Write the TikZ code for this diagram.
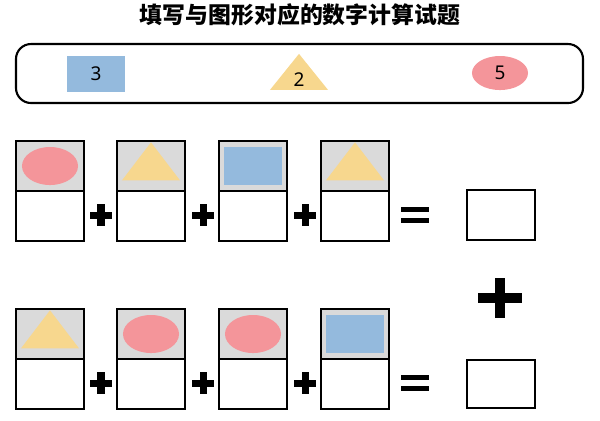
\documentclass[tikz,border=0pt]{standalone}
\usepackage{fontspec}
\setmainfont{Noto Sans}
\newfontfamily\cjk{Noto Sans CJK SC}
\usetikzlibrary{shapes.geometric}
\definecolor{pinkc}{HTML}{F4959A}
\definecolor{yelc}{HTML}{F7D78E}
\definecolor{bluec}{HTML}{94BADD}
\definecolor{greyc}{HTML}{DADADA}
\tikzset{
  card/.style={draw=black,line width=0.45pt,minimum width=0.68cm,minimum height=0.50cm,inner sep=0pt},
  ovalshape/.style={ellipse,fill=pinkc,minimum width=0.56cm,minimum height=0.38cm,inner sep=0pt},
  trishape/.style={isosceles triangle,shape border rotate=90,isosceles triangle stretches,fill=yelc,minimum width=0.58cm,minimum height=0.38cm,inner sep=0pt},
  rectshape/.style={fill=bluec,minimum width=0.58cm,minimum height=0.38cm,inner sep=0pt},
  keytext/.style={font=\fontsize{5.4pt}{6pt}\selectfont}
}
% plus sign drawn as two bars
\newcommand{\plussign}[3]{% name, position, half arm
  \coordinate (#1) at #2;
  \fill ([xshift=-#3,yshift=-0.035cm]#1) rectangle ([xshift=#3,yshift=0.035cm]#1);
  \fill ([xshift=-0.035cm,yshift=-#3]#1) rectangle ([xshift=0.035cm,yshift=#3]#1);
}
\newcommand{\equalsign}[2]{%
  \coordinate (#1) at #2;
  \fill ([xshift=-0.14cm,yshift=0.03cm]#1) rectangle ([xshift=0.14cm,yshift=0.08cm]#1);
  \fill ([xshift=-0.14cm,yshift=-0.08cm]#1) rectangle ([xshift=0.14cm,yshift=-0.03cm]#1);
}
\begin{document}
\begin{tikzpicture}[x=0.01cm,y=-0.01cm]
\useasboundingbox (0,0) rectangle (600,420);

% title
\node (title) at (300,15) {\cjk\bfseries\fontsize{6.5pt}{7pt}\selectfont 填写与图形对应的数字计算试题};

% legend
\draw[line width=0.6pt,rounded corners=0.15cm] (16,44) rectangle (583,103);
\node[rectshape,minimum height=0.36cm,keytext] (keyrect) at (96,74) {3};
\node[trishape,minimum height=0.36cm] (keytri) at (299,76) {};
\node[keytext] (keytrilabel) at (299,80) {2};
\node[ovalshape,minimum height=0.34cm,keytext] (keyoval) at (500,73) {5};

% row cards
\foreach \row/\y in {1/141, 2/309}
  \foreach \col/\x in {1/16, 2/117, 3/219, 4/321} {
    \node[card,fill=greyc] (top\row\col) at (\x+34,\y+25) {};
    \node[card] (bot\row\col) at (\x+34,\y+75) {};
  }

% shapes in the cards
\foreach \row/\col/\s in {1/1/ovalshape, 1/2/trishape, 1/3/rectshape, 1/4/trishape,
                          2/1/trishape, 2/2/ovalshape, 2/3/ovalshape, 2/4/rectshape}
  \node[\s] (shape\row\col) at (top\row\col) {};

% operators
\foreach \row/\y in {1/215, 2/383} {
  \plussign{plusA\row}{(101,\y)}{0.11cm}
  \plussign{plusB\row}{(203,\y)}{0.11cm}
  \plussign{plusC\row}{(305,\y)}{0.11cm}
  \equalsign{eq\row}{(415,\y)}
}

% answers
\node[card,minimum height=0.50cm] (ans1) at (501,215) {};
\node[card,minimum height=0.48cm] (ans2) at (501,384) {};
\fill ([xshift=-0.22cm,yshift=-0.05cm]500,298) rectangle ([xshift=0.22cm,yshift=0.05cm]500,298);
\fill ([xshift=-0.05cm,yshift=-0.20cm]500,298) rectangle ([xshift=0.05cm,yshift=0.20cm]500,298);
\end{tikzpicture}
\end{document}
